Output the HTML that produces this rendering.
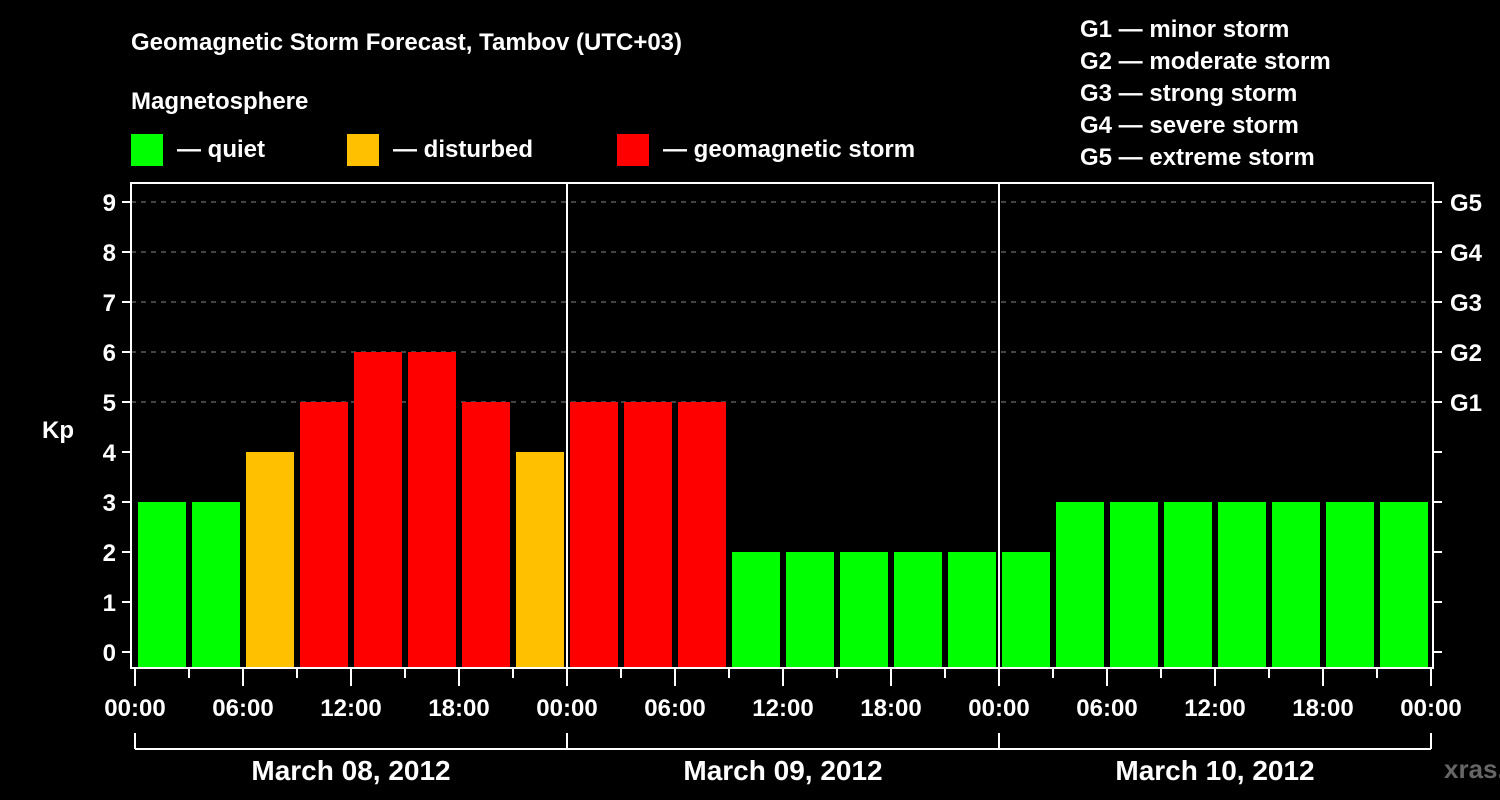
<!DOCTYPE html>
<html><head><meta charset="utf-8"><style>
html,body{margin:0;padding:0;background:#000;}
svg{display:block;font-family:"Liberation Sans",Arial,sans-serif;font-weight:bold;}
</style></head><body>
<svg id="chart" width="1500" height="800" viewBox="0 0 1500 800">
<rect x="0" y="0" width="1500" height="800" fill="#000"/>
<text x="131" y="50" fill="#fff" font-size="24">Geomagnetic Storm Forecast, Tambov (UTC+03)</text>
<text x="131" y="109" fill="#fff" font-size="24">Magnetosphere</text>
<g>
<rect x="131" y="134" width="32" height="32" fill="#00ff00"/>
<text x="177" y="157" fill="#fff" font-size="24">— quiet</text></g>
<g>
<rect x="347" y="134" width="32" height="32" fill="#ffc000"/>
<text x="393" y="157" fill="#fff" font-size="24">— disturbed</text></g>
<g>
<rect x="617" y="134" width="32" height="32" fill="#ff0000"/>
<text x="663" y="157" fill="#fff" font-size="24">— geomagnetic storm</text></g>
<g fill="#fff" font-size="24">
<text x="1080" y="37">G1 — minor storm</text>
<text x="1080" y="69">G2 — moderate storm</text>
<text x="1080" y="101">G3 — strong storm</text>
<text x="1080" y="133">G4 — severe storm</text>
<text x="1080" y="165">G5 — extreme storm</text>
</g>
<text x="42" y="438" fill="#fff" font-size="24">Kp</text>
<text x="1444" y="778" fill="#666" font-size="26">xras.ru</text>
<g id="plot"></g>
</svg>
<script>
const kpValues = [3,3,4,5,6,6,5,4, 5,5,5,2,2,2,2,2, 2,3,3,3,3,3,3,3];
const yTicks = [0,1,2,3,4,5,6,7,8,9];
const gLabels = ["G1","G2","G3","G4","G5"];
const gLevels = [5,6,7,8,9];
const hourLabels = ["00:00","06:00","12:00","18:00","00:00","06:00","12:00","18:00","00:00","06:00","12:00","18:00","00:00"];
const dayLabels = ["March 08, 2012","March 09, 2012","March 10, 2012"];

const NS="http://www.w3.org/2000/svg";
const g=document.getElementById('plot');
const X0=135, SLOT=54, PLOT_L=131, PLOT_R=1433, PLOT_T=183, PLOT_B=668;
const yScale=v=>652-v*50;
const xScale=i=>X0+i*SLOT;
function mk(tag,attrs,parent){const e=document.createElementNS(NS,tag);for(const k in attrs)e.setAttribute(k,attrs[k]);(parent||g).appendChild(e);return e;}
function color(v){return v>=5?"#ff0000":(v>=4?"#ffc000":"#00ff00");}

// gridlines
yTicks.forEach(v=>{
  if(v>=5){const l=mk('line',{x1:PLOT_L,x2:PLOT_R,y1:yScale(v),y2:yScale(v),stroke:'#888','stroke-width':1,'stroke-dasharray':'5,5'});
  
  }
});
// bars
kpValues.forEach((v,i)=>{
  const r=mk('rect',{x:xScale(i)+3,y:yScale(v),width:48,height:PLOT_B-yScale(v),fill:color(v)});
  
  
});
// day separators
[1,2].forEach(d=>{
  const l=mk('line',{x1:xScale(d*8),x2:xScale(d*8),y1:PLOT_T,y2:PLOT_B,stroke:'#fff','stroke-width':2});
  
  
});
// frame
const fr=mk('rect',{x:PLOT_L,y:PLOT_T,width:PLOT_R-PLOT_L,height:PLOT_B-PLOT_T,fill:'none',stroke:'#fff','stroke-width':2});


// y ticks + labels
yTicks.forEach(v=>{
  const y=yScale(v);
  mk('line',{x1:122,x2:PLOT_L,y1:y,y2:y,stroke:'#fff','stroke-width':2});
  mk('line',{x1:PLOT_R,x2:1442,y1:y,y2:y,stroke:'#fff','stroke-width':2});
  const t=mk('text',{x:116,y:y+9,fill:'#fff','font-size':24,'text-anchor':'end'});
  t.textContent=v;
  
  
});
gLabels.forEach((s,i)=>{
  const t=mk('text',{x:1450,y:yScale(gLevels[i])+9,fill:'#fff','font-size':24});
  t.textContent=s;
  
  
});
// x ticks
for(let i=0;i<=24;i++){
  const x=xScale(i);
  mk('line',{x1:x,x2:x,y1:PLOT_B,y2:(i%2===0)?686:678,stroke:'#fff','stroke-width':2});
}
hourLabels.forEach((s,i)=>{
  const t=mk('text',{x:xScale(i*2),y:716,fill:'#fff','font-size':24,'text-anchor':'middle'});
  t.textContent=s;
  
  
});
// day bracket
mk('line',{x1:xScale(0),x2:xScale(24),y1:749,y2:749,stroke:'#fff','stroke-width':2});
for(let d=0;d<=3;d++){mk('line',{x1:xScale(d*8),x2:xScale(d*8),y1:733,y2:749,stroke:'#fff','stroke-width':2});}
dayLabels.forEach((s,d)=>{
  const t=mk('text',{x:xScale(d*8+4),y:780,fill:'#fff','font-size':28,'text-anchor':'middle'});
  t.textContent=s;
  
  
});
</script>
</body></html>
